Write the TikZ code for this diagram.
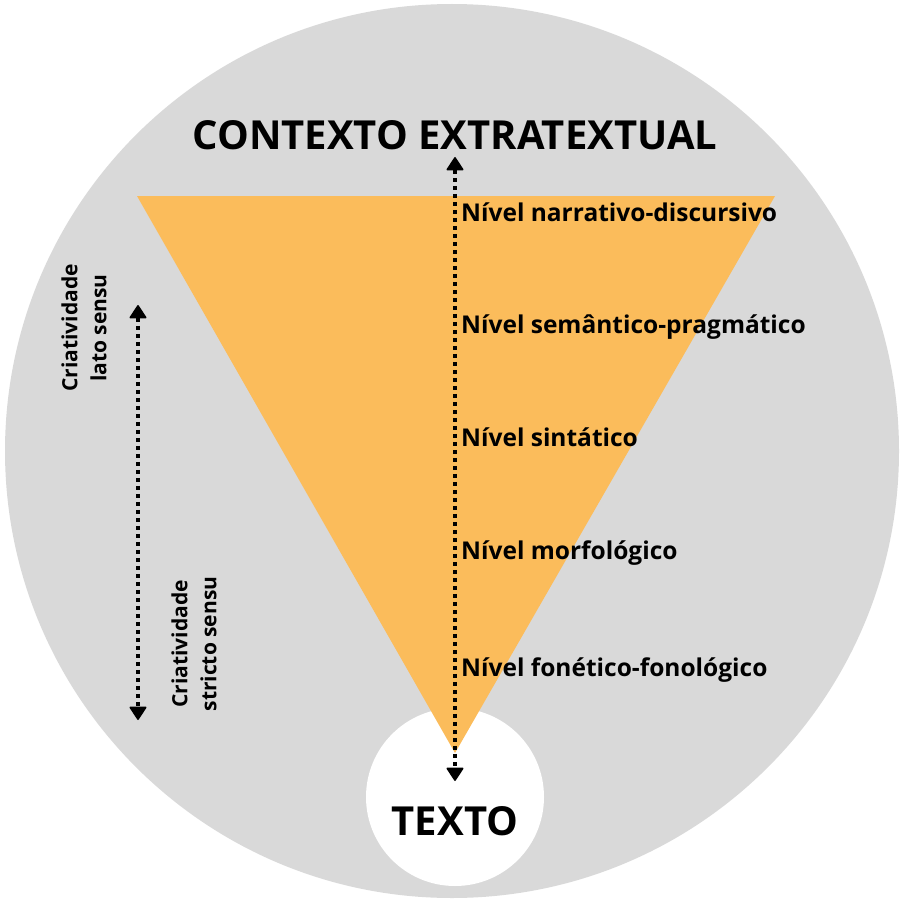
\documentclass[tikz,border=0pt]{standalone}
\usepackage{fontspec}
\setmainfont{Open Sans}
\usetikzlibrary{arrows.meta}
\definecolor{bggrey}{HTML}{D9D9D9}
\definecolor{tri}{HTML}{FBBC5B}
\begin{document}
\begin{tikzpicture}[x=1pt,y=-1pt,
  lvl/.style={anchor=west,font=\fontsize{24.5}{28}\selectfont\bfseries,inner sep=0pt},
  big/.style={font=\fontsize{40}{48}\selectfont\bfseries,inner sep=0pt},
  side/.style={rotate=90,align=center,font=\fontsize{21}{29}\selectfont\bfseries,inner sep=0pt},
  tip/.tip={Triangle[length=14pt,width=18pt,line join=round,line width=1.5pt]},
  dotarrow/.style={line width=4pt,dash pattern=on 4pt off 4pt,tip-tip}]
\useasboundingbox (0,0) rectangle (904,904);
\fill[bggrey] (452,451) circle (447);
\fill[white] (455,797) circle (89);
\fill[tri] (137,196) -- (775,196) -- (455,753) -- cycle;
\node[big] (ctx) at (455,135) {CONTEXTO EXTRATEXTUAL};
\node[big] (txt) at (455,821) {TEXTO};
\node[lvl] (l1) at (461,212) {Nível narrativo-discursivo};
\node[lvl] (l2) at (461,327) {Nível semântico-pragmático};
\node[lvl] (l3) at (461,437) {Nível sintático};
\node[lvl] (l4) at (461,553) {Nível morfológico};
\node[lvl] (l5) at (461,670) {Nível fonético-fonológico};
\node[side] (lato) at (84,328) {Criatividade\\lato sensu};
\node[side] (stricto) at (194,644) {Criatividade\\stricto sensu};
\coordinate (a1) at (455,157);
\coordinate (a2) at (455,781);
\coordinate (b1) at (138,305);
\coordinate (b2) at (138,720);
\draw[dotarrow] (a1) -- (a2);
\draw[dotarrow] (b1) -- (b2);
\end{tikzpicture}
\end{document}
